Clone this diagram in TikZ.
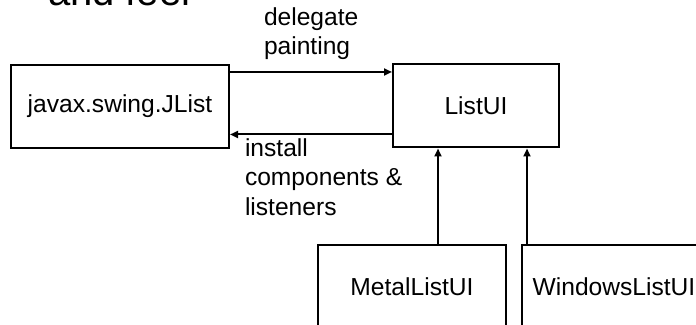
\documentclass[tikz,border=0pt]{standalone}
\usepackage{fontspec}
\setmainfont{Liberation Sans}
\usetikzlibrary{arrows.meta,calc,positioning}

\begin{document}
\begin{tikzpicture}[>={Triangle[length=4pt,width=3.5pt]},x=0.5pt,y=-0.5pt,line width=1pt,
  every node/.style={font=\fontsize{12.3}{14.8}\selectfont},
  cls/.style={draw,rectangle,minimum height=41.5pt},
  lbl/.style={inner sep=0pt,align=left}]
\useasboundingbox (0,0) rectangle (696,325);
\node[anchor=base west,inner sep=0pt,font=\fontsize{20}{24}\selectfont] (title) at (47,6) {and feel};
\node[cls,minimum width=109pt] (jlist) at (120,106.5) {javax.swing.JList};
\node[cls,minimum width=83pt] (listui) at (476,106) {ListUI};
\node[cls,minimum width=94pt,minimum height=42pt] (metal) at (412,287) {MetalListUI};
\node[cls,minimum width=92pt,minimum height=42pt] (windows) at (614,287) {WindowsListUI};
% delegation and installation
\coordinate (dp) at ([yshift=-4pt]jlist.north east);
\coordinate (ic) at ([yshift=7pt]listui.south west);
\draw[->] (dp) -- (dp -| listui.west);
\draw[->] (ic) -- (ic -| jlist.east);
\node[lbl,anchor=south west] (delegate) at ([xshift=16.5pt,yshift=5.5pt]dp) {delegate\\painting};
\node[lbl,anchor=north west] (install) at ([xshift=7pt,yshift=-1.5pt]ic -| jlist.east) {install\\components \&\\listeners};
% subclasses
\coordinate (m) at ([xshift=13pt]metal.north);
\coordinate (w) at ([xshift=3pt]windows.north west);
\draw[->] (m) -- (m |- listui.south);
\draw[->] (w) -- (w |- listui.south);
\end{tikzpicture}
\end{document}
